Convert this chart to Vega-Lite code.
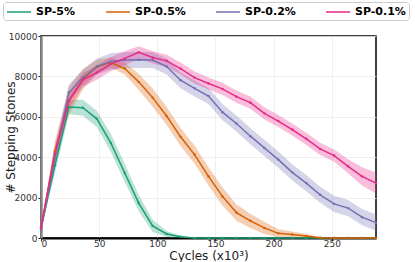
{
  "$schema": "https://vega.github.io/schema/vega-lite/v6.json",
  "autosize": {"type": "none"},
  "width": 335,
  "height": 202,
  "padding": {"left": 41, "top": 36, "right": 39, "bottom": 24},
  "background": "white",
  "config": {
    "font": "DejaVu Sans",
    "view": {"stroke": "black", "strokeWidth": 1.5},
    "axis": {
      "labelFont": "DejaVu Sans",
      "labelFontSize": 9,
      "labelColor": "#333333",
      "titleFont": "DejaVu Sans",
      "titleFontSize": 12,
      "titleFontWeight": "normal",
      "titleColor": "#222222",
      "gridColor": "#ebebeb",
      "gridWidth": 0.8,
      "tickSize": 3,
      "tickColor": "#222222",
      "labelPadding": 1
    }
  },
  "data": {
    "values": [
      {"s": "SP-5%", "x": 0, "y": 500, "lo": 400, "hi": 600},
      {"s": "SP-5%", "x": 12, "y": 3600, "lo": 3200, "hi": 4000},
      {"s": "SP-5%", "x": 24, "y": 6480, "lo": 6130, "hi": 6830},
      {"s": "SP-5%", "x": 36, "y": 6450, "lo": 6050, "hi": 6850},
      {"s": "SP-5%", "x": 48, "y": 5900, "lo": 5500, "hi": 6300},
      {"s": "SP-5%", "x": 60, "y": 4710, "lo": 4260, "hi": 5160},
      {"s": "SP-5%", "x": 72, "y": 3220, "lo": 2770, "hi": 3670},
      {"s": "SP-5%", "x": 84, "y": 1730, "lo": 1330, "hi": 2130},
      {"s": "SP-5%", "x": 96, "y": 600, "lo": 300, "hi": 900},
      {"s": "SP-5%", "x": 108, "y": 200, "lo": 50, "hi": 350},
      {"s": "SP-5%", "x": 120, "y": 60, "lo": 0, "hi": 120},
      {"s": "SP-5%", "x": 132, "y": 0, "lo": 0, "hi": 0},
      {"s": "SP-5%", "x": 144, "y": 0, "lo": 0, "hi": 0},
      {"s": "SP-5%", "x": 156, "y": 0, "lo": 0, "hi": 0},
      {"s": "SP-5%", "x": 168, "y": 0, "lo": 0, "hi": 0},
      {"s": "SP-5%", "x": 180, "y": 0, "lo": 0, "hi": 0},
      {"s": "SP-5%", "x": 192, "y": 0, "lo": 0, "hi": 0},
      {"s": "SP-5%", "x": 204, "y": 0, "lo": 0, "hi": 0},
      {"s": "SP-5%", "x": 216, "y": 0, "lo": 0, "hi": 0},
      {"s": "SP-5%", "x": 228, "y": 0, "lo": 0, "hi": 0},
      {"s": "SP-5%", "x": 240, "y": 0, "lo": 0, "hi": 0},
      {"s": "SP-5%", "x": 252, "y": 0, "lo": 0, "hi": 0},
      {"s": "SP-5%", "x": 264, "y": 0, "lo": 0, "hi": 0},
      {"s": "SP-5%", "x": 276, "y": 0, "lo": 0, "hi": 0},
      {"s": "SP-5%", "x": 288, "y": 0, "lo": 0, "hi": 0},

      {"s": "SP-0.5%", "x": 0, "y": 500, "lo": 400, "hi": 600},
      {"s": "SP-0.5%", "x": 12, "y": 4300, "lo": 3800, "hi": 4800},
      {"s": "SP-0.5%", "x": 24, "y": 6800, "lo": 6100, "hi": 7500},
      {"s": "SP-0.5%", "x": 36, "y": 7860, "lo": 7360, "hi": 8360},
      {"s": "SP-0.5%", "x": 48, "y": 8480, "lo": 8130, "hi": 8830},
      {"s": "SP-0.5%", "x": 60, "y": 8690, "lo": 8440, "hi": 8940},
      {"s": "SP-0.5%", "x": 72, "y": 8390, "lo": 8090, "hi": 8690},
      {"s": "SP-0.5%", "x": 84, "y": 7730, "lo": 7330, "hi": 8130},
      {"s": "SP-0.5%", "x": 96, "y": 6950, "lo": 6500, "hi": 7400},
      {"s": "SP-0.5%", "x": 108, "y": 6040, "lo": 5590, "hi": 6490},
      {"s": "SP-0.5%", "x": 120, "y": 5010, "lo": 4560, "hi": 5460},
      {"s": "SP-0.5%", "x": 132, "y": 4130, "lo": 3680, "hi": 4580},
      {"s": "SP-0.5%", "x": 144, "y": 3050, "lo": 2600, "hi": 3500},
      {"s": "SP-0.5%", "x": 156, "y": 2060, "lo": 1610, "hi": 2510},
      {"s": "SP-0.5%", "x": 168, "y": 1260, "lo": 860, "hi": 1660},
      {"s": "SP-0.5%", "x": 180, "y": 850, "lo": 500, "hi": 1200},
      {"s": "SP-0.5%", "x": 192, "y": 500, "lo": 200, "hi": 800},
      {"s": "SP-0.5%", "x": 204, "y": 230, "lo": 30, "hi": 430},
      {"s": "SP-0.5%", "x": 216, "y": 170, "lo": 20, "hi": 320},
      {"s": "SP-0.5%", "x": 228, "y": 100, "lo": 0, "hi": 200},
      {"s": "SP-0.5%", "x": 240, "y": 10, "lo": 0, "hi": 40},
      {"s": "SP-0.5%", "x": 252, "y": 0, "lo": 0, "hi": 0},
      {"s": "SP-0.5%", "x": 264, "y": 0, "lo": 0, "hi": 0},
      {"s": "SP-0.5%", "x": 276, "y": 0, "lo": 0, "hi": 0},
      {"s": "SP-0.5%", "x": 288, "y": 0, "lo": 0, "hi": 0},

      {"s": "SP-0.2%", "x": 0, "y": 400, "lo": 300, "hi": 500},
      {"s": "SP-0.2%", "x": 12, "y": 4000, "lo": 3550, "hi": 4450},
      {"s": "SP-0.2%", "x": 24, "y": 7200, "lo": 6800, "hi": 7600},
      {"s": "SP-0.2%", "x": 36, "y": 7940, "lo": 7540, "hi": 8340},
      {"s": "SP-0.2%", "x": 48, "y": 8490, "lo": 8090, "hi": 8890},
      {"s": "SP-0.2%", "x": 60, "y": 8740, "lo": 8340, "hi": 9140},
      {"s": "SP-0.2%", "x": 72, "y": 8810, "lo": 8410, "hi": 9210},
      {"s": "SP-0.2%", "x": 84, "y": 8820, "lo": 8420, "hi": 9220},
      {"s": "SP-0.2%", "x": 96, "y": 8810, "lo": 8410, "hi": 9210},
      {"s": "SP-0.2%", "x": 108, "y": 8490, "lo": 8090, "hi": 8890},
      {"s": "SP-0.2%", "x": 120, "y": 7810, "lo": 7410, "hi": 8210},
      {"s": "SP-0.2%", "x": 132, "y": 7410, "lo": 7010, "hi": 7810},
      {"s": "SP-0.2%", "x": 144, "y": 7030, "lo": 6630, "hi": 7430},
      {"s": "SP-0.2%", "x": 156, "y": 6230, "lo": 5830, "hi": 6630},
      {"s": "SP-0.2%", "x": 168, "y": 5670, "lo": 5270, "hi": 6070},
      {"s": "SP-0.2%", "x": 180, "y": 5040, "lo": 4640, "hi": 5440},
      {"s": "SP-0.2%", "x": 192, "y": 4460, "lo": 4060, "hi": 4860},
      {"s": "SP-0.2%", "x": 204, "y": 3880, "lo": 3480, "hi": 4280},
      {"s": "SP-0.2%", "x": 216, "y": 3250, "lo": 2850, "hi": 3650},
      {"s": "SP-0.2%", "x": 228, "y": 2720, "lo": 2320, "hi": 3120},
      {"s": "SP-0.2%", "x": 240, "y": 2140, "lo": 1740, "hi": 2540},
      {"s": "SP-0.2%", "x": 252, "y": 1690, "lo": 1290, "hi": 2090},
      {"s": "SP-0.2%", "x": 264, "y": 1480, "lo": 1080, "hi": 1880},
      {"s": "SP-0.2%", "x": 276, "y": 1030, "lo": 630, "hi": 1430},
      {"s": "SP-0.2%", "x": 288, "y": 760, "lo": 360, "hi": 1160},

      {"s": "SP-0.1%", "x": 0, "y": 500, "lo": 400, "hi": 600},
      {"s": "SP-0.1%", "x": 12, "y": 4200, "lo": 3800, "hi": 4600},
      {"s": "SP-0.1%", "x": 24, "y": 6780, "lo": 6380, "hi": 7180},
      {"s": "SP-0.1%", "x": 36, "y": 7830, "lo": 7480, "hi": 8180},
      {"s": "SP-0.1%", "x": 48, "y": 8190, "lo": 7840, "hi": 8540},
      {"s": "SP-0.1%", "x": 60, "y": 8610, "lo": 8260, "hi": 8960},
      {"s": "SP-0.1%", "x": 72, "y": 8890, "lo": 8540, "hi": 9240},
      {"s": "SP-0.1%", "x": 84, "y": 9190, "lo": 8890, "hi": 9490},
      {"s": "SP-0.1%", "x": 96, "y": 8940, "lo": 8640, "hi": 9240},
      {"s": "SP-0.1%", "x": 108, "y": 8770, "lo": 8470, "hi": 9070},
      {"s": "SP-0.1%", "x": 120, "y": 8390, "lo": 8090, "hi": 8690},
      {"s": "SP-0.1%", "x": 132, "y": 7940, "lo": 7640, "hi": 8240},
      {"s": "SP-0.1%", "x": 144, "y": 7650, "lo": 7350, "hi": 7950},
      {"s": "SP-0.1%", "x": 156, "y": 7380, "lo": 7080, "hi": 7680},
      {"s": "SP-0.1%", "x": 168, "y": 7000, "lo": 6700, "hi": 7300},
      {"s": "SP-0.1%", "x": 180, "y": 6700, "lo": 6400, "hi": 7000},
      {"s": "SP-0.1%", "x": 192, "y": 6170, "lo": 5870, "hi": 6470},
      {"s": "SP-0.1%", "x": 204, "y": 5790, "lo": 5490, "hi": 6090},
      {"s": "SP-0.1%", "x": 216, "y": 5370, "lo": 5070, "hi": 5670},
      {"s": "SP-0.1%", "x": 228, "y": 4910, "lo": 4610, "hi": 5210},
      {"s": "SP-0.1%", "x": 240, "y": 4410, "lo": 4110, "hi": 4710},
      {"s": "SP-0.1%", "x": 252, "y": 4080, "lo": 3780, "hi": 4380},
      {"s": "SP-0.1%", "x": 264, "y": 3550, "lo": 3200, "hi": 3900},
      {"s": "SP-0.1%", "x": 276, "y": 3050, "lo": 2600, "hi": 3500},
      {"s": "SP-0.1%", "x": 288, "y": 2720, "lo": 2200, "hi": 3240}
    ]
  },
  "encoding": {
    "x": {
      "field": "x",
      "type": "quantitative",
      "scale": {"domain": [0, 288], "nice": false, "zero": false},
      "axis": {
        "values": [0, 50, 100, 150, 200, 250],
        "format": "d",
        "title": "Cycles (x10³)",
        "domainColor": "black",
        "domainWidth": 2,
        "labelPadding": -2,
        "titleY": 21,
        "titleBaseline": "alphabetic"
      }
    },
    "color": {
      "field": "s",
      "type": "nominal",
      "sort": ["SP-5%", "SP-0.5%", "SP-0.2%", "SP-0.1%"],
      "scale": {
        "domain": ["SP-5%", "SP-0.5%", "SP-0.2%", "SP-0.1%"],
        "range": ["#1b9e77", "#d95f02", "#7570b3", "#e7298a"]
      },
      "legend": {
        "title": null,
        "orient": "none",
        "legendX": -38,
        "legendY": -34,
        "direction": "horizontal",
        "columns": 4,
        "symbolType": "M-2,0H2",
        "symbolSize": 144,
        "symbolOffset": 6,
        "symbolStrokeWidth": 1.5,
        "symbolOpacity": 1,
        "labelFont": "DejaVu Sans",
        "labelFontSize": 11,
        "labelFontWeight": "bold",
        "labelColor": "black",
        "labelOffset": 10,
        "columnPadding": 27,
        "padding": 3,
        "strokeColor": "#cccccc",
        "fillColor": "white",
        "cornerRadius": 3
      }
    }
  },
  "layer": [
    {
      "mark": {"type": "area", "opacity": 0.3, "interpolate": "linear"},
      "encoding": {
        "y": {"field": "lo", "type": "quantitative"},
        "y2": {"field": "hi"}
      }
    },
    {
      "mark": {"type": "line", "strokeWidth": 1.5, "point": {"size": 6, "filled": true}},
      "encoding": {
        "y": {
          "field": "y",
          "type": "quantitative",
          "scale": {"domain": [0, 10000], "nice": false},
          "axis": {
            "values": [0, 2000, 4000, 6000, 8000, 10000],
            "format": "d",
            "title": "# Stepping Stones",
            "domainColor": "#888888",
            "domainWidth": 2.5,
            "titleX": -31,
            "titleY": 101,
            "titleAngle": 270,
            "titleAlign": "center",
            "titleBaseline": "middle"
          }
        }
      }
    }
  ]
}
